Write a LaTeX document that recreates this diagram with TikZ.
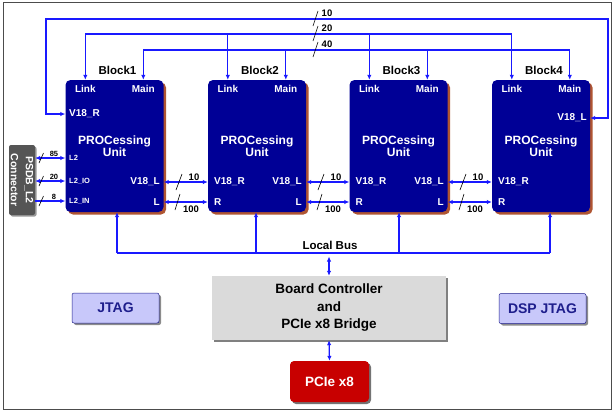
\documentclass[tikz,border=0pt]{standalone}
\usepackage{fontspec}
\setmainfont{Liberation Sans}
\usetikzlibrary{arrows.meta,shadows,calc}
\definecolor{navy}{RGB}{0,0,150}
\definecolor{shadowbrown}{RGB}{175,85,50}
\definecolor{lineblue}{RGB}{25,25,255}
\definecolor{bcgray}{RGB}{218,218,218}
\definecolor{jtagfill}{RGB}{200,200,250}
\definecolor{jtagtext}{RGB}{30,30,140}
\definecolor{pcired}{RGB}{200,0,0}
\definecolor{conngray}{RGB}{85,85,85}
\tikzset{
  blk/.style={fill=navy, rounded corners=5pt, minimum width=98pt, minimum height=132pt,
    text=white, font=\bfseries\fontsize{12}{12.5}\selectfont, align=center,
    drop shadow={shadow xshift=2.5pt, shadow yshift=-2.5pt, fill=shadowbrown, opacity=1}},
  blkname/.style={font=\bfseries\fontsize{11.5}{13}\selectfont, inner sep=0pt},
  lbl/.style={text=white, font=\bfseries\fontsize{10}{12}\selectfont, inner sep=0pt},
  slbl/.style={text=white, font=\bfseries\fontsize{7.5}{9}\selectfont, inner sep=0pt},
  bus/.style={draw=lineblue, line width=1.25pt},
  arr/.style={bus, -{Latex[length=5pt,width=4.5pt]}},
  darr/.style={bus, {Latex[length=5pt,width=4.5pt]}-{Latex[length=5pt,width=4.5pt]}},
  num/.style={font=\bfseries\fontsize{9.5}{11}\selectfont, inner sep=0pt},
  snum/.style={font=\bfseries\fontsize{7.5}{8}\selectfont, inner sep=0pt},
  slashln/.style={draw=black, line width=0.6pt},
  bcbox/.style={fill=bcgray, minimum width=234pt, minimum height=64pt, align=center,
    font=\bfseries\fontsize{13.5}{17.5}\selectfont,
    drop shadow={shadow xshift=2pt, shadow yshift=-2pt, fill=black!50, opacity=1}},
  pcibox/.style={fill=pcired, rounded corners=4pt, minimum width=79pt, minimum height=41pt,
    text=white, font=\bfseries\fontsize{13.5}{15}\selectfont,
    drop shadow={shadow xshift=2pt, shadow yshift=-2pt, fill=black!55, opacity=1}},
  jtagbox/.style={fill=jtagfill, draw=jtagtext, line width=0.5pt, rounded corners=2pt,
    minimum width=87pt, minimum height=30pt, text=jtagtext,
    font=\bfseries\fontsize{14}{15}\selectfont,
    drop shadow={shadow xshift=2pt, shadow yshift=-2pt, fill=black!45, opacity=1}},
  connbox/.style={fill=conngray, rounded corners=2pt, minimum width=26pt, minimum height=70pt,
    drop shadow={shadow xshift=1.5pt, shadow yshift=-1.5pt, fill=black!40, opacity=1}},
}
\begin{document}
\begin{tikzpicture}[x=1pt,y=-1pt]
\useasboundingbox (0,0) rectangle (613,413);
\draw[black!70, line width=1pt] (3,2) rectangle (611,409);

% blocks
\foreach \i/\cx in {1/114.5,2/257,3/398.5,4/541}{
  \node[blk] (b\i) at (\cx,146) {PROCessing\\Unit};
  \node[lbl] (lk\i) at ($(b\i.north west)+(20,9)$) {Link};
  \node[lbl] (mn\i) at ($(b\i.north west)+(78,9)$) {Main};
  \node[blkname] (name\i) at ($(b\i.north)+(3,-9)$) {Block\i};
}

% block1 labels
\node[lbl, anchor=west] (b1v18r) at (69,114) {V18\_R};
\node[slbl, anchor=west] (b1l2) at (69,158) {L2};
\node[slbl, anchor=west] (b1l2io) at (69,181) {L2\_IO};
\node[slbl, anchor=west] (b1l2in) at (69,201) {L2\_IN};
\node[lbl, anchor=east] (b1v18l) at (160,182) {V18\_L};
\node[lbl, anchor=east] (b1l) at (160,202) {L};
% block2
\node[lbl, anchor=west] (b2v18r) at (214,182) {V18\_R};
\node[lbl, anchor=west] (b2r) at (214,202) {R};
\node[lbl, anchor=east] (b2v18l) at (302,182) {V18\_L};
\node[lbl, anchor=east] (b2l) at (302,202) {L};
% block3
\node[lbl, anchor=west] (b3v18r) at (355.5,182) {V18\_R};
\node[lbl, anchor=west] (b3r) at (355.5,202) {R};
\node[lbl, anchor=east] (b3v18l) at (444,182) {V18\_L};
\node[lbl, anchor=east] (b3l) at (444,202) {L};
% block4
\node[lbl, anchor=east] (b4v18l) at (587,118) {V18\_L};
\node[lbl, anchor=west] (b4v18r) at (498,182) {V18\_R};
\node[lbl, anchor=west] (b4r) at (498,202) {R};

% connector
\node[connbox] (psdb) at (22,180) {};
\node[rotate=-90, align=center, text=white, font=\bfseries\fontsize{10.5}{15}\selectfont, inner sep=0pt] (psdbtxt) at (psdb.center) {PSDB\_L2\\Connector};

% connector links
\draw[darr] (psdb.east |- b1l2) -- (b1.west |- b1l2);
\draw[darr] (psdb.east |- b1l2io) -- (b1.west |- b1l2io);
\draw[arr] (psdb.east |- b1l2in) -- (b1.west |- b1l2in);
\foreach \yy/\t/\ly in {158/85/154,181/20/177,201/8/197}{
  \draw[slashln] (39,\yy+5) -- (43.5,\yy-5);
  \node[snum] at (54,\ly) {\t};
}

% inter-block links
\draw[darr] (b1.east |- b1v18l) -- (b2.west |- b2v18r);
\draw[darr] (b1.east |- b1l) -- (b2.west |- b2r);
\draw[darr] (b2.east |- b2v18l) -- (b3.west |- b3v18r);
\draw[darr] (b2.east |- b2l) -- (b3.west |- b3r);
\draw[darr] (b3.east |- b3v18l) -- (b4.west |- b4v18r);
\draw[darr] (b3.east |- b3l) -- (b4.west |- b4r);
\foreach \m in {186,328,470}{
  \draw[slashln] (\m-10,190) -- (\m-4,174);
  \draw[slashln] (\m-11,210) -- (\m-6,194);
  \node[num] at (\m+8,177) {10};
  \node[num] at (\m+5,209) {100};
}

% top buses
\coordinate (t10a) at (46,19);
\coordinate (t10b) at (608,19);
\draw[darr] (b1.west |- b1v18r) -| (t10a) -- (t10b) |- (b4.east |- b4v18l);
\coordinate (t20) at (0,34);
\coordinate (t40) at (0,50);
\draw[bus] (lk1 |- t20) -- (lk4 |- t20);
\draw[bus] (mn1 |- t40) -- (mn4 |- t40);
\foreach \i in {1,...,4}{
  \draw[arr] (lk\i |- t20) -- (lk\i |- b\i.north);
  \draw[arr] (mn\i |- t40) -- (mn\i |- b\i.north);
}
\foreach \yy/\t in {19/10,34/20,50/40}{
  \draw[slashln] (313,\yy+7) -- (318,\yy-8);
  \node[num] at (327,\yy-6) {\t};
}

% local bus
\coordinate (tap1) at (117,253);
\coordinate (tap2) at (256,253);
\coordinate (tap3) at (399,253);
\coordinate (tap4) at (550,253);
\draw[bus] (tap1) -- (tap4);
\foreach \i in {1,...,4}{
  \draw[arr] (tap\i) -- (tap\i |- b\i.south);
}
\node[font=\bfseries\fontsize{11.5}{12}\selectfont, inner sep=0pt] (lbus) at (330,245) {Local Bus};

% board controller, pcie
\node[bcbox] (bc) at (329,308) {Board Controller\\and\\PCIe x8 Bridge};
\node[pcibox] (pcie) at (329.5,381.5) {PCIe x8};
\coordinate (bctop) at (329,256.5);
\draw[darr] (bctop) -- (bc.north);
\draw[darr] (bc.south) -- (pcie.north);

% jtag
\node[jtagbox] (jtag) at (115.5,308) {JTAG};
\node[jtagbox] (dspjtag) at (542.5,308.5) {DSP JTAG};
\end{tikzpicture}
\end{document}
